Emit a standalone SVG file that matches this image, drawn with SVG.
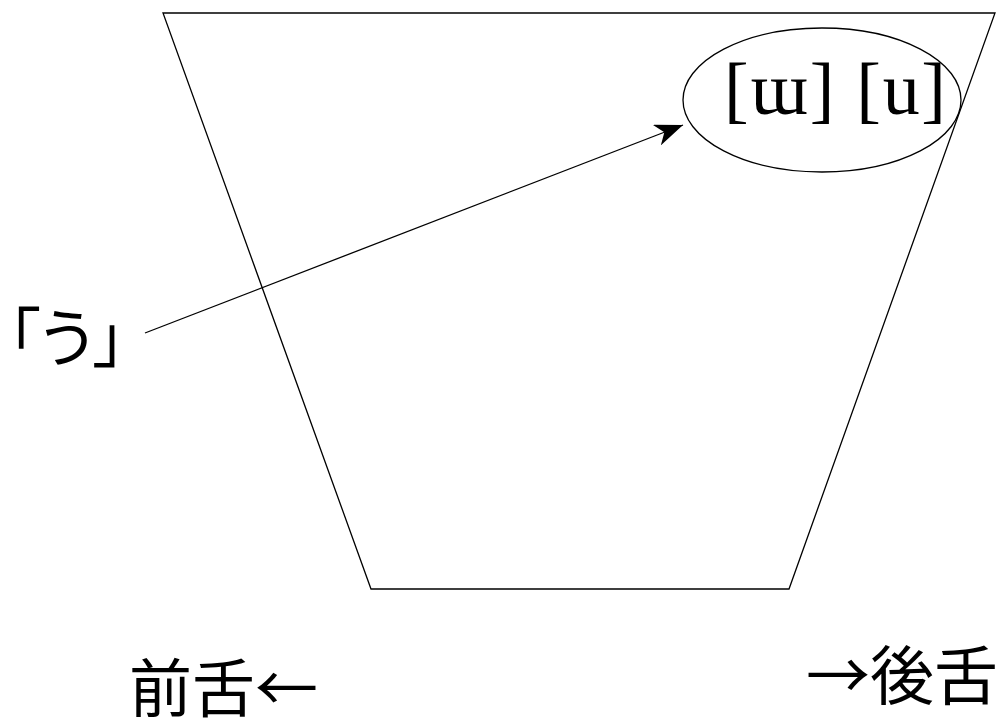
<svg xmlns="http://www.w3.org/2000/svg" width="999" height="718" viewBox="0 0 999 718">
<style>
.ln{fill:none;stroke:#000;stroke-width:1.3}
.jp{font-family:"Noto Sans CJK JP","Noto Sans CJK SC",sans-serif;fill:#000}
.ipa{font-family:"Liberation Serif","DejaVu Serif",serif;fill:#000}
</style>
<defs>
<marker id="ah" viewBox="0 0 28 22" refX="28" refY="11" markerWidth="28" markerHeight="22" markerUnits="userSpaceOnUse" orient="auto">
<path d="M0,0 L28,11 L0,22 L8,11 Z" fill="#000"/>
</marker>
</defs>
<g id="chart">
<polygon class="ln" points="163,13 995,13 789,589 371,589"/>
</g>
<g id="vowel-uu">
<ellipse class="ln" cx="822" cy="100" rx="139" ry="72"/>
<text class="ipa" x="724" y="114" font-size="74" textLength="222" lengthAdjust="spacing">[ɯ] [u]</text>
</g>
<g id="label-u">
<text class="jp" x="8" y="361" font-size="64" style="font-feature-settings:'palt'">「う」</text>
</g>
<g id="front">
<text class="jp" x="129" y="711" font-size="63">前舌←</text>
</g>
<g id="back">
<text class="jp" x="806" y="699" font-size="64">→後舌</text>
</g>
<g id="connectors">
<line class="ln" x1="145" y1="333" x2="683" y2="125" marker-end="url(#ah)"/>
</g>
</svg>
